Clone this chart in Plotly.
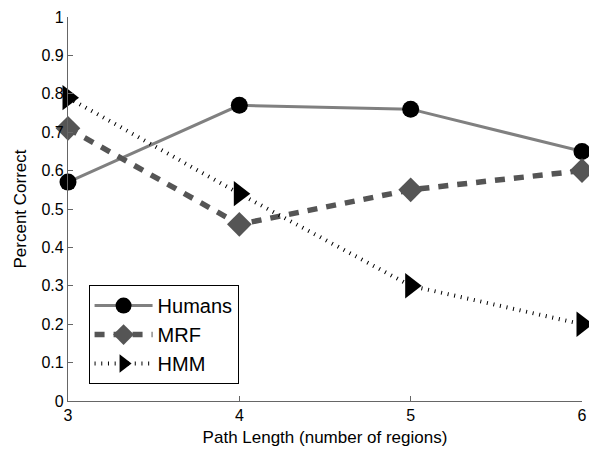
import plotly.graph_objects as go

path_length = [3, 4, 5, 6]
humans = [0.57, 0.77, 0.76, 0.65]
mrf = [0.71, 0.46, 0.55, 0.60]
hmm = [0.79, 0.54, 0.30, 0.20]

x_ticks = [3, 4, 5, 6]
y_ticks = [0, 0.1, 0.2, 0.3, 0.4, 0.5, 0.6, 0.7, 0.8, 0.9, 1]
y_tick_labels = ["0", "0.1", "0.2", "0.3", "0.4", "0.5", "0.6", "0.7", "0.8", "0.9", "1"]

fig = go.Figure()
fig.add_trace(go.Scatter(
    x=path_length, y=humans, name="Humans", mode="lines+markers",
    line=dict(color="#808080", width=3, dash="solid"),
    marker=dict(symbol="circle", size=17, color="black"),
    cliponaxis=False,
))
fig.add_trace(go.Scatter(
    x=path_length, y=mrf, name="MRF", mode="lines+markers",
    line=dict(color="#555555", width=5.5, dash="10px,9px"),
    marker=dict(symbol="diamond", size=19, color="#555555"),
    cliponaxis=False,
))
fig.add_trace(go.Scatter(
    x=path_length, y=hmm, name="HMM", mode="lines+markers",
    line=dict(color="black", width=4, dash="1px,5.7px"),
    marker=dict(symbol="triangle-right", size=22, color="black"),
    cliponaxis=False,
))

axis_common = dict(
    showgrid=False, zeroline=False, showline=True, linecolor="#666666", linewidth=1.3,
    ticks="inside", ticklen=5, tickcolor="#666666", tickwidth=1,
    tickfont=dict(family="Liberation Sans, Arial", size=16, color="black"),
    mirror=False, automargin=False,
)

fig.update_layout(
    width=589, height=449,
    margin=dict(l=68, r=7, t=17, b=48),
    paper_bgcolor="white", plot_bgcolor="white",
    font=dict(family="Liberation Sans, Arial", color="black"),
    xaxis=dict(range=[3, 6], tickvals=x_ticks, ticktext=[str(v) for v in x_ticks],
               title=dict(text="Path Length (number of regions)", font=dict(size=17), standoff=7),
               **axis_common),
    yaxis=dict(range=[0, 1], tickvals=y_ticks, ticktext=y_tick_labels,
               title=dict(text="Percent Correct\u00a0\u00a0\u00a0", font=dict(size=17), standoff=10),
               **axis_common),
    legend=dict(x=0.04, y=0.302, xanchor="left", yanchor="top",
                bordercolor="black", borderwidth=1, bgcolor="white",
                font=dict(size=20, color="black"), itemwidth=58,
                tracegroupgap=0),
    showlegend=True,
)

fig.write_html("out.html", config={"displayModeBar": False},
               post_script="document.body.style.margin='0';document.body.style.padding='0';")
